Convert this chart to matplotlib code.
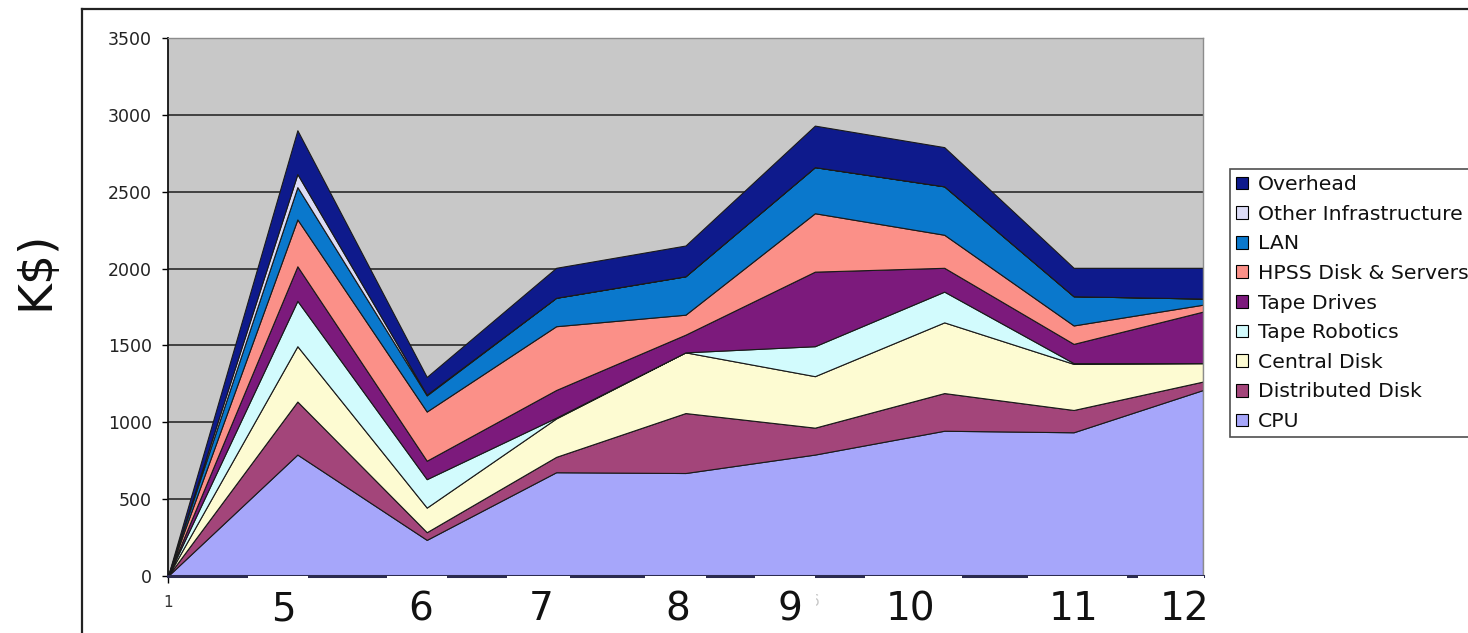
import matplotlib
matplotlib.use("Agg")
import matplotlib.pyplot as plt
from matplotlib.patches import Patch, Rectangle
from matplotlib.lines import Line2D
from matplotlib.transforms import Bbox

# ---- data (K$ per period, stacked) ----
periods = ["1", "2", "3", "4", "5", "6", "7", "8", "9"]
period_labels = ["5", "6", "7", "8", "9", "10", "11", "12"]

cpu = [0, 790, 235, 675, 670, 790, 945, 935, 1210]
distributed_disk = [0, 345, 50, 100, 390, 175, 245, 145, 55]
central_disk = [0, 360, 160, 250, 395, 335, 460, 300, 120]
tape_robotics = [0, 295, 185, 5, 0, 195, 200, 5, 0]
tape_drives = [0, 225, 120, 180, 115, 485, 155, 125, 335]
hpss_disk_servers = [0, 305, 320, 415, 130, 380, 215, 120, 45]
lan = [0, 210, 105, 185, 250, 300, 315, 190, 40]
other_infrastructure = [0, 85, 5, 0, 0, 0, 0, 0, 0]
overhead = [0, 285, 115, 195, 200, 270, 255, 185, 200]

series_names = ["CPU", "Distributed Disk", "Central Disk", "Tape Robotics",
                "Tape Drives", "HPSS Disk & Servers", "LAN",
                "Other Infrastructure", "Overhead"]
series_values = [cpu, distributed_disk, central_disk, tape_robotics,
                 tape_drives, hpss_disk_servers, lan, other_infrastructure,
                 overhead]
series_colors = ["#a6a6fa", "#a3457a", "#fdfbd2", "#d2fbfd", "#7c1a7c",
                 "#fb9088", "#0a78cc", "#dcdcf6", "#0e1a8c"]

W, H = 1468, 633


def fx(px):
    return px / W


def fy(py):
    return 1 - py / H


fig = plt.figure(figsize=(W / 100, H / 100), dpi=100)
fig.patch.set_facecolor("white")

ax = fig.add_axes([fx(168), fy(576), fx(1203) - fx(168), fy(38) - fy(576)])
ax.set_facecolor("#c8c8c8")

x = list(range(len(periods)))
ax.stackplot(x, *series_values, colors=series_colors,
             edgecolor="#1a1a1a", linewidth=0.8, zorder=2)

ax.set_xlim(0, len(periods) - 1)
ax.set_ylim(0, 3500)
ax.set_yticks(range(0, 3501, 500))
ax.yaxis.grid(True, color="#2a2a2a", linewidth=1.2)
ax.set_axisbelow(True)

# only the first category label of the original axis stays readable
ax.set_xticks(x)
ax.set_xticklabels([periods[0]] + [""] * (len(periods) - 1), color="#333333")
for i, tl in enumerate(ax.xaxis.get_major_ticks()):
    if i > 0:
        tl.tick1line.set_visible(False)

ax.tick_params(axis="y", direction="out", length=4.5, width=1.0,
               labelsize=12.5, labelcolor="#222222", pad=7)
ax.tick_params(axis="x", direction="out", length=5, width=1.0,
               labelsize=11, pad=9)

for side in ("top", "right"):
    ax.spines[side].set_color("#8c8c8c")
    ax.spines[side].set_linewidth(1.0)
ax.spines["left"].set_color("#111111")
ax.spines["left"].set_linewidth(1.3)
ax.spines["bottom"].set_color("#2b2b50")
ax.spines["bottom"].set_linewidth(2.2)

# partly hidden original label under the "9" box
remnant = fig.text(fx(815), fy(601), periods[5], fontsize=11,
                   ha="center", va="center", color="#c8c8c8", zorder=4)
remnant.set_clip_box(Bbox.from_extents(816, 0, 840, H))
remnant.set_clip_on(True)

# white label boxes laid over the category axis
label_boxes = [(248, 308), (387, 447), (507, 570), (645, 706),
               (755, 815), (865, 962), (1028, 1127), (1138, 1204)]
label_centers = [283, 421, 541, 678, 790, 910, 1074, 1184]
for (x0, x1) in label_boxes:
    fig.add_artist(Rectangle((fx(x0), 0), fx(x1) - fx(x0), fy(575.5),
                             transform=fig.transFigure, facecolor="white",
                             edgecolor="none", zorder=5))
for cx, txt in zip(label_centers, period_labels):
    fig.text(fx(cx), fy(609.5), txt, fontsize=28, family="DejaVu Sans",
             ha="center", va="center", color="#111111", zorder=6)

# y-axis title
fig.text(fx(36), fy(270), "K\\$)", rotation=90, fontsize=34,
         family="DejaVu Sans", ha="center", va="center", color="#111111")

# chart-area frame (open on the right and bottom)
fig.add_artist(Line2D([fx(82), 1.0], [fy(8.5), fy(8.5)],
                      transform=fig.transFigure, color="#222222", lw=1.6))
fig.add_artist(Line2D([fx(82), fx(82)], [0.0, fy(8.5)],
                      transform=fig.transFigure, color="#222222", lw=1.6))

# legend, top entry first
handles = [Patch(facecolor=c, edgecolor="black", linewidth=0.8)
           for c in series_colors[::-1]]
leg = fig.legend(handles, series_names[::-1], loc="upper left",
                 bbox_to_anchor=(fx(1230), fy(169)), borderaxespad=0,
                 frameon=True, fancybox=False, fontsize=14.7,
                 handlelength=0.58, handleheight=0.58, handletextpad=0.48,
                 labelspacing=0.52, borderpad=0.3)
leg.get_frame().set_edgecolor("#222222")
leg.get_frame().set_linewidth(1.2)
for t in leg.get_texts():
    t.set_color("#111111")

fig.savefig("out.png", dpi=100, facecolor="white")
